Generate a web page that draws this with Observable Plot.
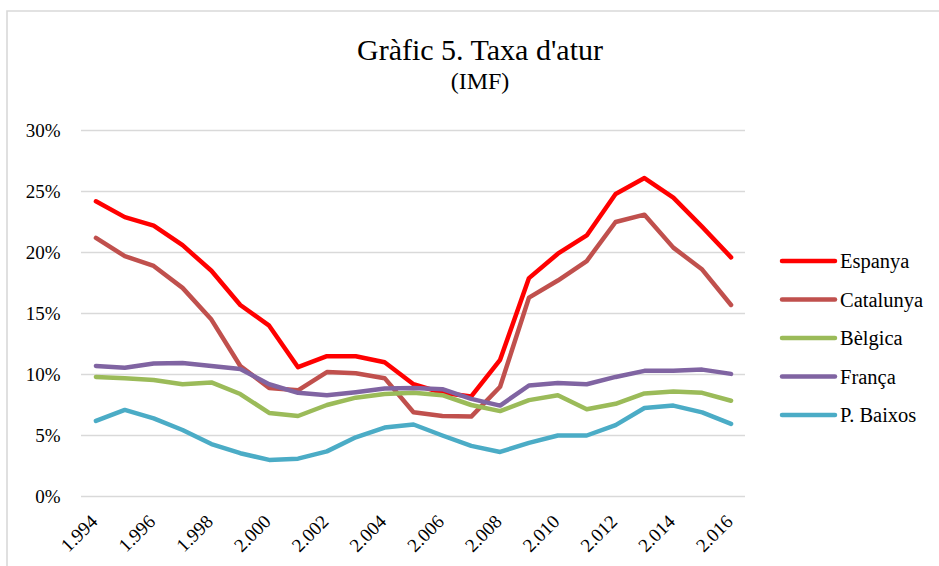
<!DOCTYPE html>
<html><head><meta charset="utf-8">
<script src="https://cdn.jsdelivr.net/npm/d3@7"></script>
<script src="https://cdn.jsdelivr.net/npm/@observablehq/plot@0.6"></script>
<style>
body{margin:0;background:#fff;}
#wrap{position:relative;width:939px;height:566px;overflow:hidden;}
#wrap svg{position:absolute;left:0;top:0;}
#wrap text{font-family:"Liberation Serif","Times New Roman",serif;}
</style>
</head><body>
<div id="wrap"></div>
<script>
const years = [1994,1995,1996,1997,1998,1999,2000,2001,2002,2003,2004,2005,2006,2007,2008,2009,2010,2011,2012,2013,2014,2015,2016];
const xTicks = [1994,1996,1998,2000,2002,2004,2006,2008,2010,2012,2014,2016];
const yTicks = [0,5,10,15,20,25,30];
const seriesNames = ["Espanya","Catalunya","Bèlgica","França","P. Baixos"];
const seriesColors = ["#ff0000","#c0504d","#9bbb59","#8064a2","#4bacc6"];
const espanya   = [24.2,22.9,22.2,20.6,18.5,15.7,14.0,10.6,11.5,11.5,11.0,9.2,8.5,8.2,11.2,17.9,19.9,21.4,24.8,26.1,24.5,22.1,19.6];
const catalunya = [21.2,19.7,18.9,17.1,14.5,10.7,8.9,8.7,10.2,10.1,9.7,6.9,6.6,6.55,9.0,16.3,17.7,19.3,22.5,23.1,20.4,18.6,15.7];
const belgica   = [9.8,9.7,9.55,9.2,9.35,8.4,6.85,6.6,7.5,8.1,8.4,8.5,8.3,7.5,7.0,7.9,8.3,7.15,7.6,8.45,8.6,8.5,7.85];
const franca    = [10.7,10.55,10.9,10.95,10.7,10.45,9.2,8.5,8.3,8.55,8.85,8.9,8.8,8.0,7.45,9.1,9.3,9.2,9.8,10.3,10.3,10.4,10.05];
const baixos    = [6.2,7.1,6.4,5.45,4.3,3.55,3.0,3.1,3.7,4.85,5.65,5.9,5.0,4.15,3.65,4.4,5.0,5.0,5.85,7.25,7.45,6.9,5.95];
const seriesValues = [espanya,catalunya,belgica,franca,baixos];

const FONT = '"Liberation Serif","Times New Roman",serif';
const data = seriesNames.flatMap((name,i)=>years.map((year,j)=>({name,year,value:seriesValues[i][j]})));
const fmtYear = d => String(d).replace(/^(\d)(\d{3})$/,"$1.$2");

const chart = Plot.plot({
  width:939, height:566,
  marginLeft:81, marginRight:194, marginTop:130, marginBottom:70,
  style:{fontFamily:FONT, fontSize:"19px", color:"#000", background:"transparent"},
  x:{domain:[1993.5,2016.5]},
  y:{domain:[0,30]},
  color:{domain:seriesNames, range:seriesColors},
  marks:[
    Plot.ruleY(yTicks,{stroke:"#d9d9d9",strokeWidth:1.3}),
    Plot.axisY({ticks:yTicks, tickSize:0, tickPadding:21, tickFormat:d=>d+"%", fontSize:19, label:null}),
    Plot.axisX({ticks:xTicks, tickSize:0, tickPadding:22, tickRotate:-45, dx:-1.5, tickFormat:fmtYear, fontSize:19, label:null}),
    ...seriesNames.map(n=>Plot.lineY(data.filter(d=>d.name===n),{x:"year",y:"value",stroke:"name",strokeWidth:4.5,strokeLinecap:"round",strokeLinejoin:"round"}))
  ]
});
document.getElementById("wrap").appendChild(chart);

const ov = d3.select("#wrap").append("svg").attr("width",939).attr("height",566).style("pointer-events","none");
ov.append("path").attr("d","M7,570V11H945").attr("fill","none").attr("stroke","#d9d9d9").attr("stroke-width",1.6);
ov.append("text").attr("x",480).attr("y",60).attr("text-anchor","middle").attr("font-family",FONT).attr("font-size",30).text("Gràfic 5. Taxa d'atur");
ov.append("text").attr("x",480).attr("y",89).attr("text-anchor","middle").attr("font-family",FONT).attr("font-size",24).text("(IMF)");
const lg = ov.append("g");
seriesNames.forEach((n,i)=>{
  const y = 261 + i*38.5;
  lg.append("line").attr("x1",782).attr("x2",835).attr("y1",y).attr("y2",y).attr("stroke",seriesColors[i]).attr("stroke-width",4.5).attr("stroke-linecap","round");
  lg.append("text").attr("x",840).attr("y",y).attr("dy","0.35em").attr("font-family",FONT).attr("font-size",20.5).attr("fill","#000").text(n);
});
</script>
</body></html>
